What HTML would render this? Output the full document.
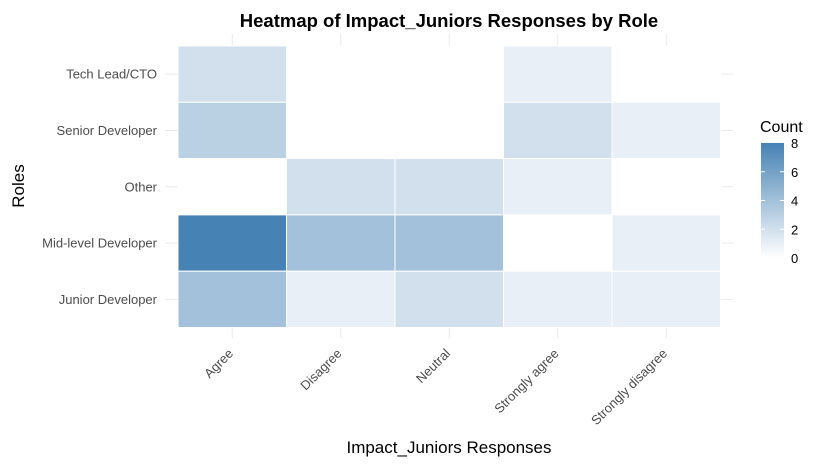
<!DOCTYPE html>
<html><head><meta charset="utf-8"><style>
body{margin:0;background:#fff;font-family:"Liberation Sans",Arial,sans-serif;}
svg text{font-family:"Liberation Sans",Arial,sans-serif;}
</style></head><body>
<svg id="chart" width="828" height="465" xmlns="http://www.w3.org/2000/svg">
<defs><linearGradient id="lg" x1="0" y1="1" x2="0" y2="0"><stop offset="0" stop-color="#ffffff"/><stop offset="1" stop-color="#4682B4"/></linearGradient></defs>
<text x="449" y="27" text-anchor="middle" font-size="18.5" font-weight="bold" fill="#000">Heatmap of Impact_Juniors Responses by Role</text>
<g id="grid"></g><g id="cells"></g><g id="xlabels"></g><g id="ylabels"></g>
<text x="449" y="453" text-anchor="middle" font-size="17" fill="#000">Impact_Juniors Responses</text>
<text transform="translate(24,186) rotate(-90)" text-anchor="middle" font-size="17" fill="#000">Roles</text>
<g>
<text x="760" y="132" font-size="16" fill="#000">Count</text>
<rect x="761" y="143" width="23" height="115" fill="url(#lg)"/>
<g id="legticks"></g>
</g>
</svg>
<script>
const categories=["Agree","Disagree","Neutral","Strongly agree","Strongly disagree"];
const roles=["Tech Lead/CTO","Senior Developer","Other","Mid-level Developer","Junior Developer"];
const valTech=[2,null,null,1,null];
const valSenior=[3,null,null,2,1];
const valOther=[null,2,2,1,null];
const valMid=[8,4,4,null,1];
const valJunior=[4,1,2,1,1];
const legendTicks=[0,2,4,6,8];
const rows=[valTech,valSenior,valOther,valMid,valJunior];
const NS="http://www.w3.org/2000/svg";
const x0=178,cw=108.5,y0=46,rh=56.3,vmax=8,lgTop=143,lgH=115;
const xPos=i=>x0+i*cw, yPos=j=>y0+j*rh;
function col(v){const t=v/vmax;const c=(a,b)=>Math.round(a+(b-a)*t);return `rgb(${c(255,70)},${c(255,130)},${c(255,180)})`;}
function mk(tag,attrs,parent){const e=document.createElementNS(NS,tag);for(const k in attrs)e.setAttribute(k,attrs[k]);document.getElementById(parent).appendChild(e);return e;}
categories.forEach((c,i)=>{const l=mk('line',{x1:xPos(i)+cw/2,x2:xPos(i)+cw/2,y1:34,y2:338,stroke:'#ebebeb','stroke-width':1},'grid');


const cx=xPos(i)+cw/2,t=mk('text',{x:cx,y:350,'text-anchor':'end','font-size':13,fill:'#4d4d4d',transform:`rotate(-45 ${cx+6} 350)`},'xlabels');t.textContent=c;

});
roles.forEach((r,j)=>{const cy=yPos(j)+rh/2;const l=mk('line',{x1:165,x2:733,y1:cy,y2:cy,stroke:'#ebebeb','stroke-width':1},'grid');


const t=mk('text',{x:157,y:cy+4.5,'text-anchor':'end','font-size':13,fill:'#4d4d4d'},'ylabels');t.textContent=r;


rows[j].forEach((v,i)=>{const e=mk('rect',{x:xPos(i),y:yPos(j),width:cw,height:rh,fill:v==null?'#ffffff':col(v),stroke:'#fff','stroke-width':1},'cells');

});});
legendTicks.forEach(v=>{const y=lgTop+lgH*(1-v/vmax);const t=mk('text',{x:791,y:y+5,'font-size':13,fill:'#000'},'legticks');t.textContent=v;


if(v>0&&v<vmax){mk('line',{x1:761,x2:765,y1:y,y2:y,stroke:'#fff'},'legticks');mk('line',{x1:780,x2:784,y1:y,y2:y,stroke:'#fff'},'legticks');}});
</script>
</body></html>
